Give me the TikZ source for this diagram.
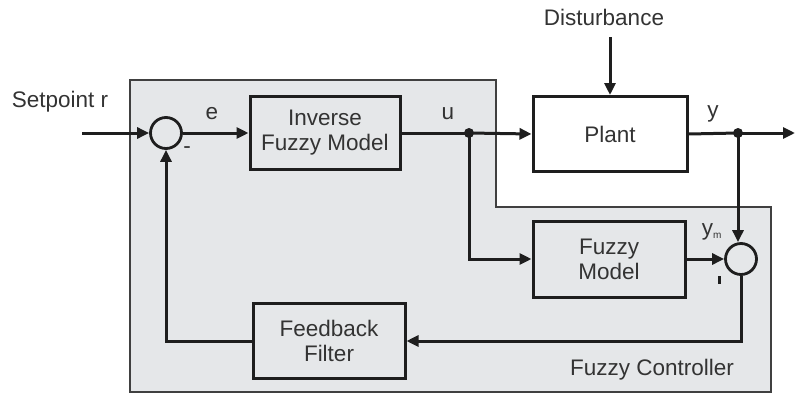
\documentclass[tikz,border=0pt]{standalone}
\usepackage{fontspec}
\setmainfont{Liberation Sans}
\usetikzlibrary{arrows.meta}
\definecolor{regiongray}{HTML}{E5E7E9}
\definecolor{inkc}{HTML}{1E1E1E}
\definecolor{txtc}{HTML}{333333}
\begin{document}
\begin{tikzpicture}[x=1pt,y=-1pt,
  blk/.style={draw=inkc,line width=3pt,minimum width=150pt,minimum height=73pt,align=center,font=\fontsize{22.5}{25}\selectfont,text=txtc,inner sep=0pt},
  sumj/.style={draw=inkc,line width=2.8pt,circle,minimum size=31pt,inner sep=0pt},
  wire/.style={draw=inkc,line width=3pt},
  arr/.style={wire,-{Triangle[length=12pt,width=11pt]}},
  lbl/.style={text=txtc,font=\fontsize{22.5}{25}\selectfont,inner sep=0pt},
  dot/.style={circle,fill=inkc,inner sep=0pt,minimum size=10pt}]
\useasboundingbox (0,0) rectangle (795,394);
% controller region
\draw[fill=regiongray,draw=inkc!85,line width=1.8pt] (130,80) -- (496,80) -- (496,207) -- (771,207) -- (771,392) -- (130,392) -- cycle;
% blocks
\node[sumj] (s1) at (166,133) {};
\node[blk] (ifm) at (325,133) {Inverse\\Fuzzy Model};
\node[blk,minimum width=154pt,minimum height=75pt] (plant) at (610,134) {Plant};
\node[blk,minimum width=152pt,minimum height=76pt] (fm) at (609,259) {Fuzzy\\Model};
\node[blk,minimum width=152pt,minimum height=75pt] (ff) at (329,341) {Feedback\\Filter};
\node[sumj] (s2) at (741,259) {};
\node[dot] (du) at (469,133) {};
\node[dot] (dy) at (738,133) {};
\coordinate (in) at (82,133);
\coordinate (out) at (795,133);
\node[lbl] (dist) at (604,17) {Disturbance};
\coordinate (distend) at (610,37);
% connectors
\draw[arr] (in) -- (s1.west);
\draw[arr] (s1.east) -- (ifm.west);
\draw[wire] (ifm.east) -- (du.center);
\draw[arr] (du.center) -- (plant.west);
\draw[arr] (distend) -- (plant.north);
\draw[wire] (plant.east) -- (dy.center);
\draw[arr] (dy.center) -- (out);
\draw[arr] (du.center) |- (fm.west);
\draw[arr] (fm.east) -- (s2.west);
\draw[arr] (dy.center) -- (dy.center |- s2.north);
\draw[arr] (s2.south) |- (ff.east);
\draw[arr] (ff.west) -| (s1.south);
% labels
\node[lbl] (lsp) at (60,102) {Setpoint r};
\node[lbl] (le) at (212,114) {e};
\node[lbl] (lm1) at (187,150) {-};
\node[lbl] (lu) at (448,114) {u};
\node[lbl] (ly) at (713,114) {y};
\node[lbl] (lym) at (712,232) {y\textsubscript{\fontsize{10}{11}\selectfont m}};
\node[fill=inkc,minimum width=3pt,minimum height=8pt,inner sep=0pt] (lm2) at (719,280) {};
\node[lbl] (lfc) at (652,370) {Fuzzy Controller};
\end{tikzpicture}
\end{document}
